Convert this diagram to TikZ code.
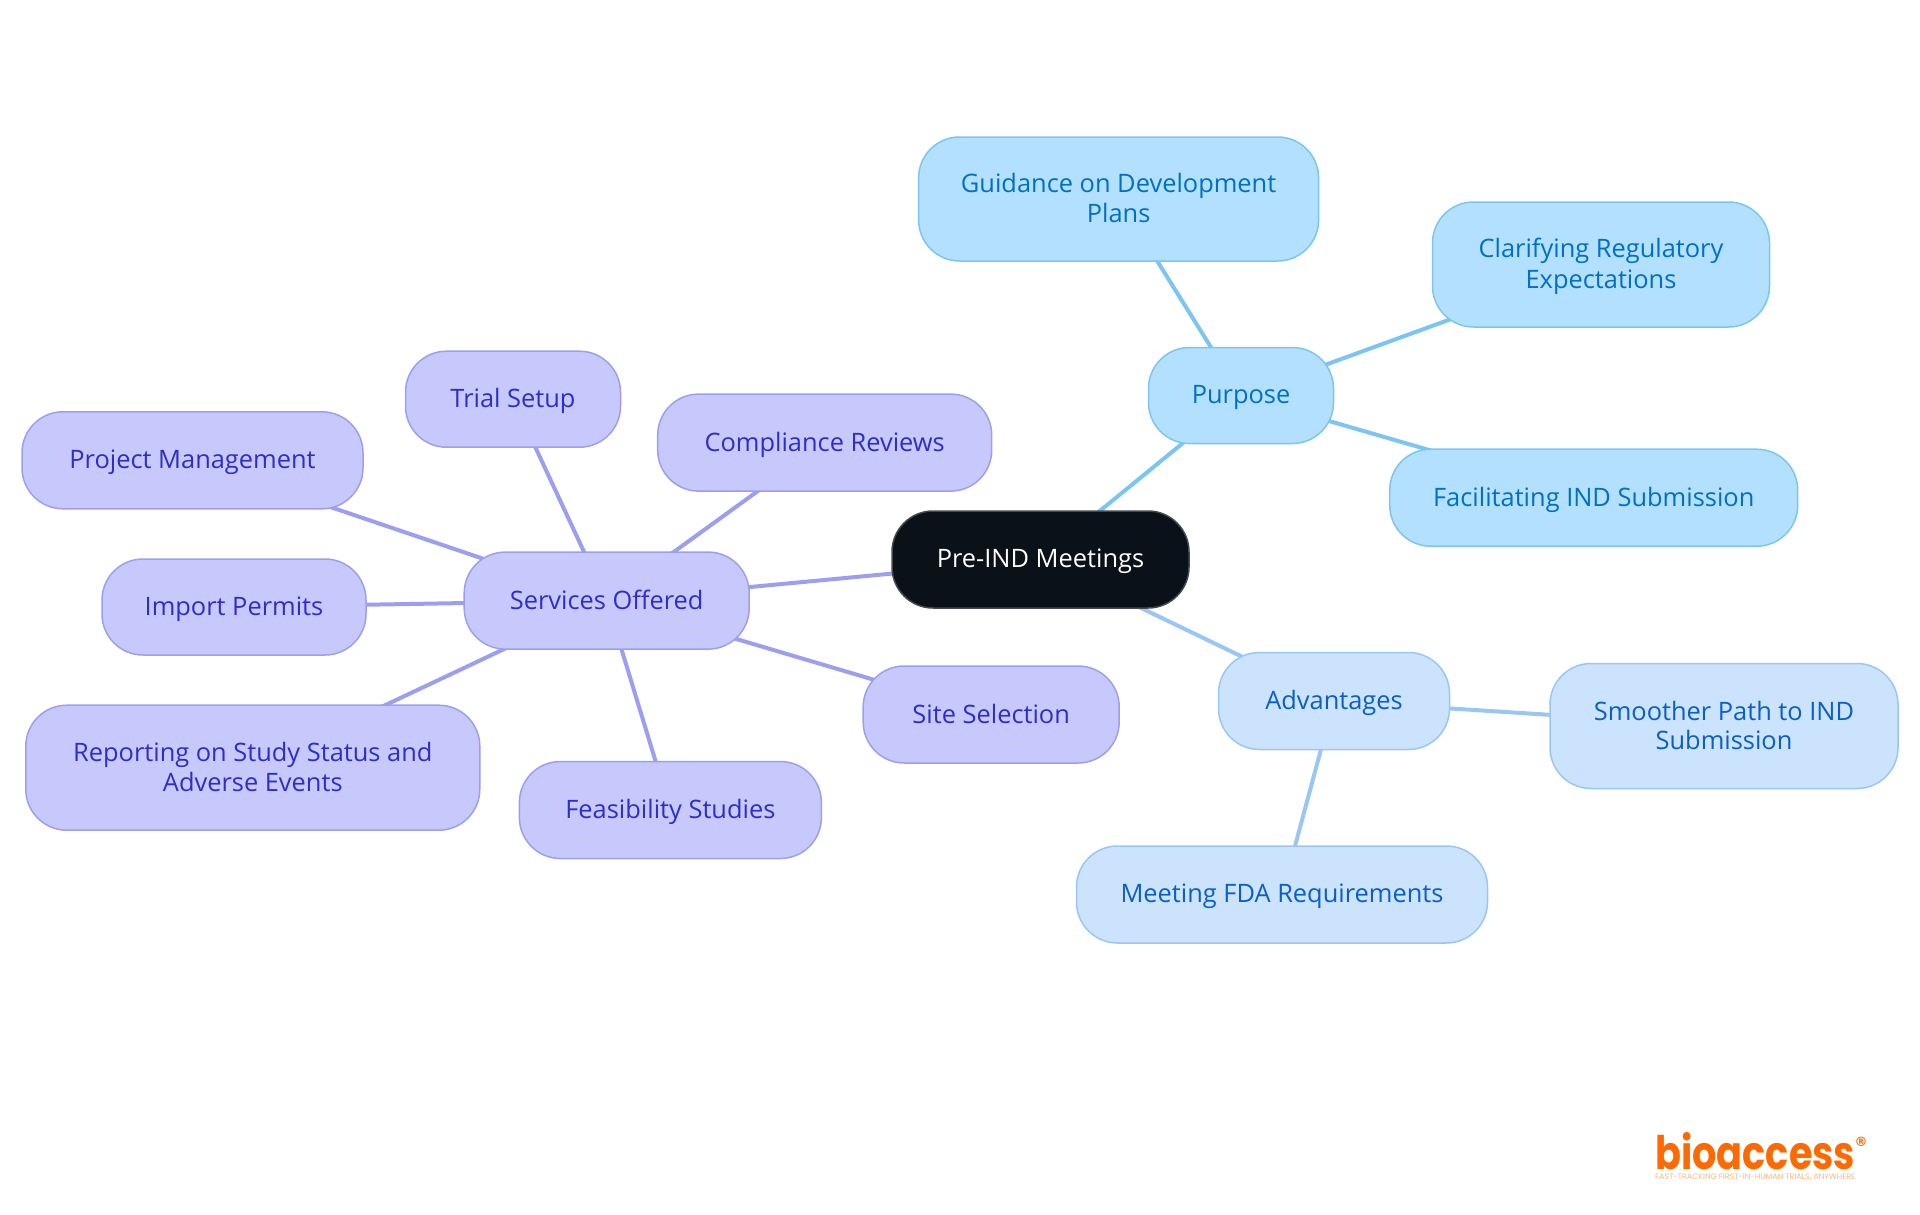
\documentclass[tikz,border=0pt]{standalone}
\usepackage{fontspec}
\usepackage{graphicx}
\setmainfont{Open Sans}
\newfontfamily\logofont{Poppins}
\newfontfamily\regfont{DejaVu Sans}
\usetikzlibrary{backgrounds}
\definecolor{rootfill}{HTML}{0A1119}
\definecolor{rootline}{HTML}{45494E}
\definecolor{svcfill}{HTML}{C7C9FD}
\definecolor{svcline}{HTML}{9C9FF0}
\definecolor{svctext}{HTML}{2E2DCB}
\definecolor{purfill}{HTML}{B3E0FF}
\definecolor{purline}{HTML}{7CC5F3}
\definecolor{purtext}{HTML}{0070C4}
\definecolor{advfill}{HTML}{CCE3FD}
\definecolor{advline}{HTML}{9AC6F5}
\definecolor{advtext}{HTML}{0A5FC7}
\definecolor{logoorange}{HTML}{FF6A00}
\newcommand{\ms}{\rule[-6pt]{0pt}{29pt}}
\tikzset{
  x=1pt,y=-1pt,
  mapnode/.style={draw,line width=1.5pt,rounded corners=41pt,inner sep=0pt,align=center,
    font=\fontsize{25.4}{29}\selectfont},
  rootnode/.style={mapnode,fill=rootfill,draw=rootline,text=white},
  svcnode/.style={mapnode,fill=svcfill,draw=svcline,text=svctext},
  purnode/.style={mapnode,fill=purfill,draw=purline,text=purtext},
  advnode/.style={mapnode,fill=advfill,draw=advline,text=advtext},
  svcedge/.style={draw=svcline,line width=4pt},
  puredge/.style={draw=purline,line width=4pt},
  advedge/.style={draw=advline,line width=4pt}
}
\begin{document}
\begin{tikzpicture}
\useasboundingbox (0,0) rectangle (1920,1215);
\node[rootnode,minimum width=297pt,minimum height=97pt] (root) at (1040.5,559.5) {\ms Pre-IND Meetings};

\node[purnode,minimum width=185pt,minimum height=96pt] (pur) at (1241,395.5) {\ms Purpose};
\node[purnode,minimum width=400pt,minimum height=124pt] (guid) at (1118.6,199) {\ms Guidance on Development\\\ms Plans};
\node[purnode,minimum width=337pt,minimum height=125pt] (clar) at (1601,264.5) {\ms Clarifying Regulatory\\\ms Expectations};
\node[purnode,minimum width=408pt,minimum height=97pt] (faci) at (1593.7,497.7) {\ms Facilitating IND Submission};

\node[advnode,minimum width=231pt,minimum height=97pt] (adv) at (1334,701) {\ms Advantages};
\node[advnode,minimum width=348pt,minimum height=125pt] (smoo) at (1724,726) {\ms Smoother Path to IND\\\ms Submission};
\node[advnode,minimum width=411pt,minimum height=97pt] (meet) at (1282,894.5) {\ms Meeting FDA Requirements};

\node[svcnode,minimum width=285pt,minimum height=97pt] (svc) at (606.7,600.6) {\ms Services Offered};
\node[svcnode,minimum width=215pt,minimum height=96pt] (tria) at (513,399.2) {\ms Trial Setup};
\node[svcnode,minimum width=334pt,minimum height=97pt] (comp) at (824.7,442.6) {\ms Compliance Reviews};
\node[svcnode,minimum width=341pt,minimum height=97pt] (proj) at (192.5,460.3) {\ms Project Management};
\node[svcnode,minimum width=264pt,minimum height=96pt] (impo) at (234,607) {\ms Import Permits};
\node[svcnode,minimum width=454pt,minimum height=125pt] (repo) at (252.8,767.7) {\ms Reporting on Study Status and\\\ms Adverse Events};
\node[svcnode,minimum width=302pt,minimum height=97pt] (feas) at (670.4,810) {\ms Feasibility Studies};
\node[svcnode,minimum width=256pt,minimum height=97pt] (site) at (991.2,714.5) {\ms Site Selection};

\begin{pgfonlayer}{background}
\draw[puredge] (root.center) -- (pur.center);
\draw[puredge] (pur.center) -- (guid.center);
\draw[puredge] (pur.center) -- (clar.center);
\draw[puredge] (pur.center) -- (faci.center);
\draw[advedge] (root.center) -- (adv.center);
\draw[advedge] (adv.center) -- (smoo.center);
\draw[advedge] (adv.center) -- (meet.center);
\draw[svcedge] (root.center) -- (svc.center);
\draw[svcedge] (svc.center) -- (tria.center);
\draw[svcedge] (svc.center) -- (comp.center);
\draw[svcedge] (svc.center) -- (proj.center);
\draw[svcedge] (svc.center) -- (impo.center);
\draw[svcedge] (svc.center) -- (repo.center);
\draw[svcedge] (svc.center) -- (feas.center);
\draw[svcedge] (svc.center) -- (site.center);
\end{pgfonlayer}

\node[anchor=base west,inner sep=0pt,text=logoorange] (logo) at (1655,1169)
  {\resizebox{200pt}{37pt}{\logofont\bfseries bioaccess}};
\node[anchor=center,inner sep=0pt,text=logoorange] (reg) at (1861,1142)
  {\fontsize{13}{13}\selectfont\regfont\bfseries ®};
\node[anchor=base west,inner sep=0pt,text=logoorange!50] (tag) at (1655,1179.5)
  {\resizebox{200pt}{!}{\logofont FAST-TRACKING FIRST-IN-HUMAN TRIALS, ANYWHERE}};
\end{tikzpicture}
\end{document}
